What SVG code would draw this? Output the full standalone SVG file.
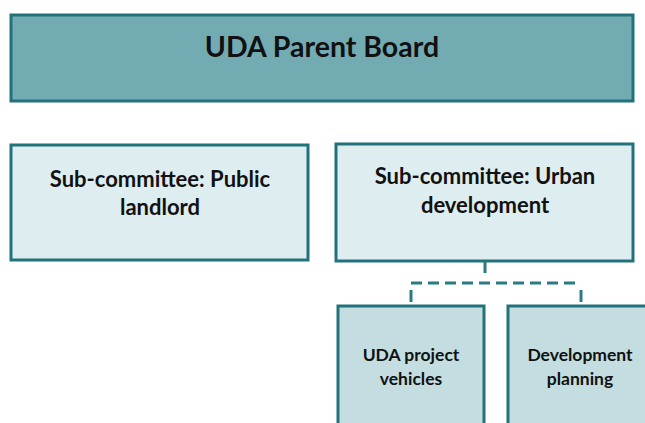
<svg xmlns="http://www.w3.org/2000/svg" width="645" height="423" viewBox="0 0 645 423">
<style>
.box{stroke:#22727b;stroke-width:3}
.top{fill:#72abb2}
.mid{fill:#deedef}
.low{fill:#c3dde0}
text{font-family:Lato,"Open Sans","Liberation Sans",sans-serif;font-weight:bold;fill:#111;text-anchor:middle}
.t1{font-size:28.5px}
.t2{font-size:22px}
.t3{font-size:17.5px}
.conn{stroke:#2a7b82;stroke-width:3;fill:none}
</style>
<rect width="645" height="423" fill="#ffffff"/>
<g id="parent">
<rect class="box top" x="11" y="15" width="622" height="86"/>
<text class="t1" x="322" y="57">UDA Parent Board</text>
</g>
<g id="public-landlord">
<rect class="box mid" x="11" y="145" width="297" height="115"/>
<text class="t2" x="160" y="187">Sub-committee: Public</text>
<text class="t2" x="160" y="215">landlord</text>
</g>
<g id="urban-development">
<rect class="box mid" x="336" y="144" width="297" height="117"/>
<text class="t2" x="485" y="184">Sub-committee: Urban</text>
<text class="t2" x="485" y="213">development</text>
</g>
<g id="project-vehicles">
<rect class="box low" x="338" y="306" width="146" height="130"/>
<text class="t3" x="411" y="361">UDA project</text>
<text class="t3" x="411" y="385">vehicles</text>
</g>
<g id="development-planning">
<rect class="box low" x="508" y="306" width="146" height="130"/>
<text class="t3" x="580" y="361">Development</text>
<text class="t3" x="580" y="385">planning</text>
</g>
<g id="connectors">
<line class="conn" x1="485" y1="262" x2="485" y2="273"/>
<line class="conn" x1="411" y1="283" x2="581" y2="283" stroke-dasharray="11,6"/>
<line class="conn" x1="411" y1="290" x2="411" y2="302"/>
<line class="conn" x1="581" y1="290" x2="581" y2="302"/>
</g>
</svg>
